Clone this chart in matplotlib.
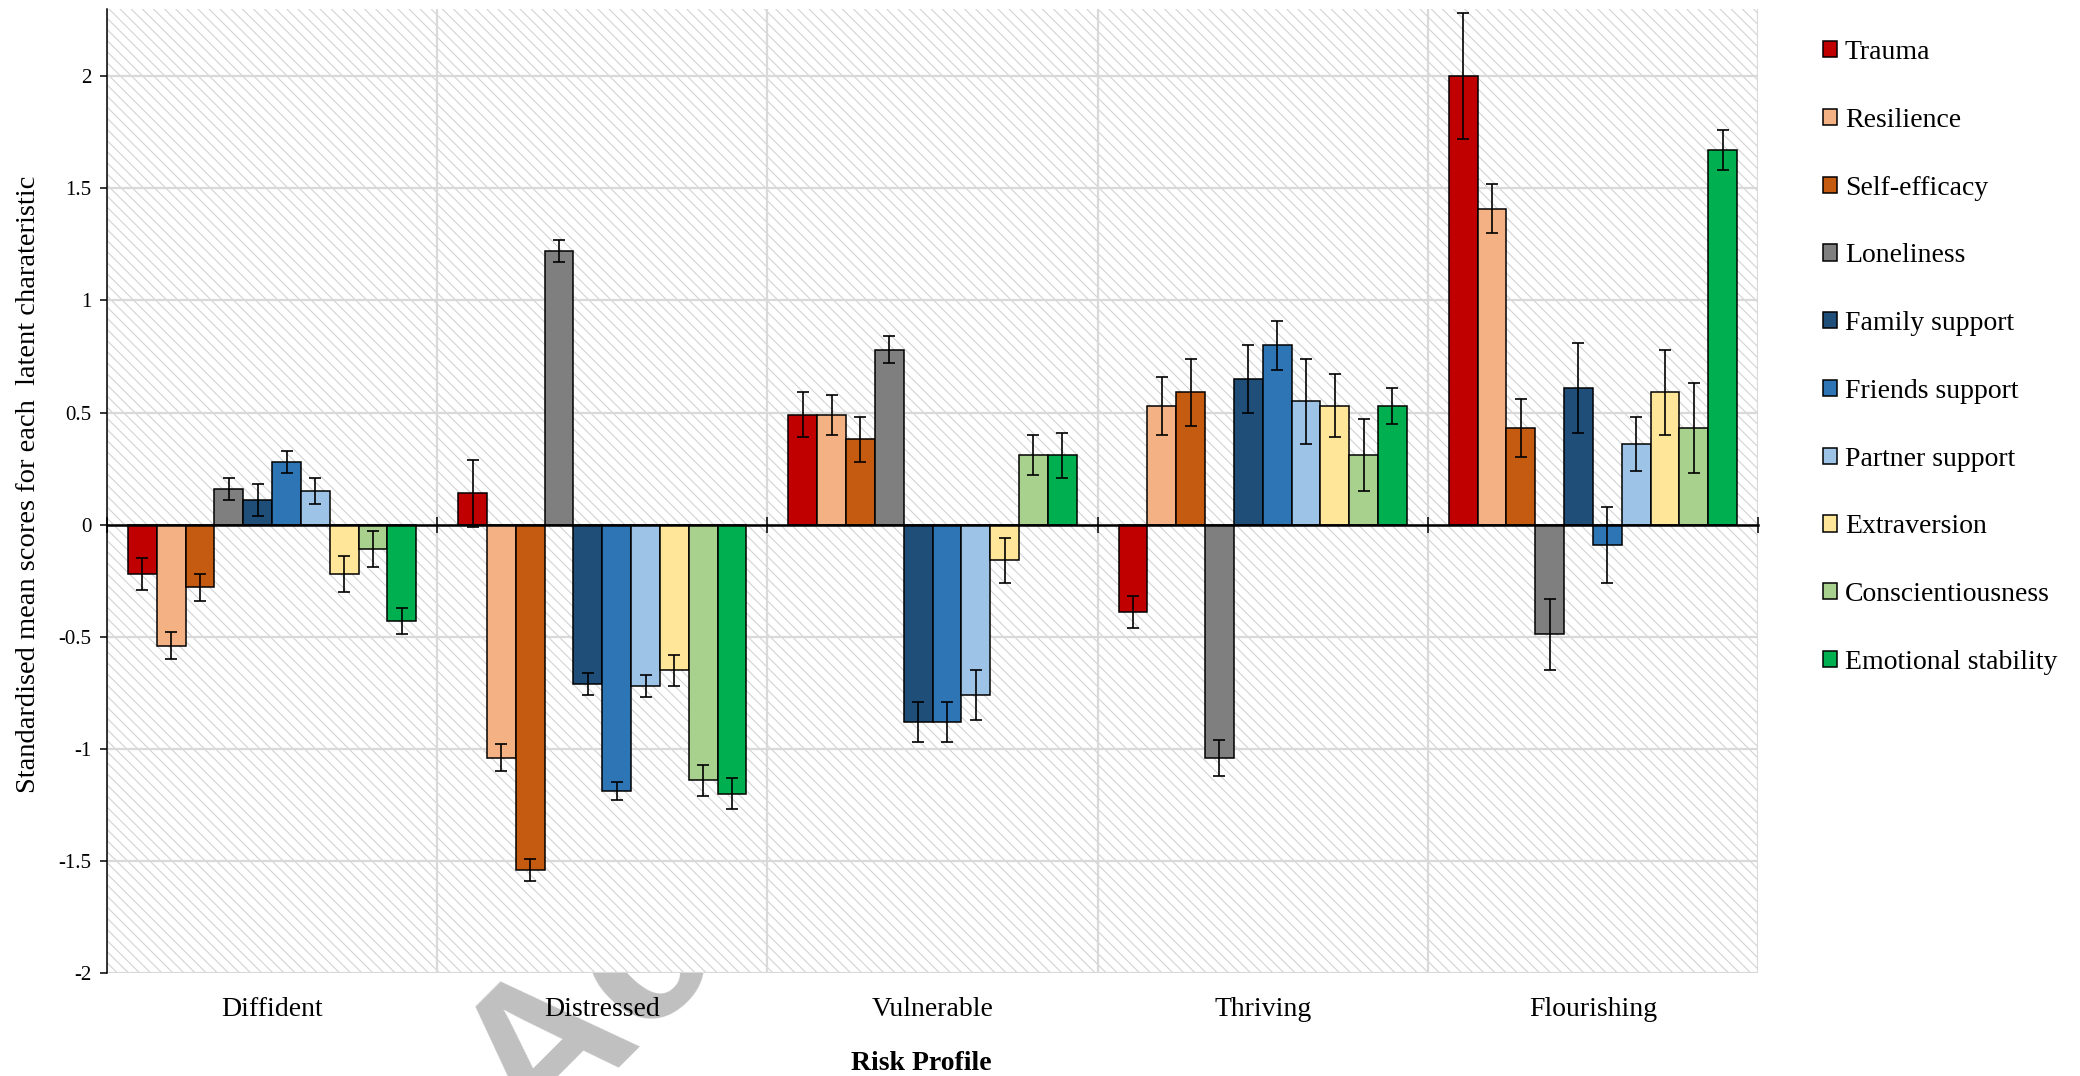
import numpy as np
import matplotlib
matplotlib.use("Agg")
import matplotlib.pyplot as plt
from matplotlib.patches import Rectangle

plt.rcParams['font.family'] = ['Liberation Serif', 'DejaVu Serif']
plt.rcParams['axes.unicode_minus'] = False
plt.rcParams['hatch.color'] = '#d3d3d3'
plt.rcParams['hatch.linewidth'] = 0.8

# ---------------- data ----------------
profiles = ['Diffident', 'Distressed', 'Vulnerable', 'Thriving', 'Flourishing']
characteristics = ['Trauma', 'Resilience', 'Self-efficacy', 'Loneliness', 'Family support',
                   'Friends support', 'Partner support', 'Extraversion', 'Conscientiousness',
                   'Emotional stability']

trauma = [-0.22, 0.14, 0.49, -0.39, 2.00]
resilience = [-0.54, -1.04, 0.49, 0.53, 1.41]
self_efficacy = [-0.28, -1.54, 0.38, 0.59, 0.43]
loneliness = [0.16, 1.22, 0.78, -1.04, -0.49]
family_support = [0.11, -0.71, -0.88, 0.65, 0.61]
friends_support = [0.28, -1.19, -0.88, 0.80, -0.09]
partner_support = [0.15, -0.72, -0.76, 0.55, 0.36]
extraversion = [-0.22, -0.65, -0.16, 0.53, 0.59]
conscientiousness = [-0.11, -1.14, 0.31, 0.31, 0.43]
emotional_stability = [-0.43, -1.20, 0.31, 0.53, 1.67]

trauma_err = [0.07, 0.15, 0.10, 0.07, 0.28]
resilience_err = [0.06, 0.06, 0.09, 0.13, 0.11]
self_efficacy_err = [0.06, 0.05, 0.10, 0.15, 0.13]
loneliness_err = [0.05, 0.05, 0.06, 0.08, 0.16]
family_support_err = [0.07, 0.05, 0.09, 0.15, 0.20]
friends_support_err = [0.05, 0.04, 0.09, 0.11, 0.17]
partner_support_err = [0.06, 0.05, 0.11, 0.19, 0.12]
extraversion_err = [0.08, 0.07, 0.10, 0.14, 0.19]
conscientiousness_err = [0.08, 0.07, 0.09, 0.16, 0.20]
emotional_stability_err = [0.06, 0.07, 0.10, 0.08, 0.09]

colors = ['#C00000', '#F4B183', '#C55A11', '#7F7F7F', '#1F4E79',
          '#2E75B6', '#9DC3E6', '#FFE699', '#A9D18E', '#00B050']

y_ticks = [-2, -1.5, -1, -0.5, 0, 0.5, 1, 1.5, 2]
y_tick_labels = ['-2', '-1.5', '-1', '-0.5', '0', '0.5', '1', '1.5', '2']

series = [trauma, resilience, self_efficacy, loneliness, family_support,
          friends_support, partner_support, extraversion, conscientiousness,
          emotional_stability]
errors = [trauma_err, resilience_err, self_efficacy_err, loneliness_err, family_support_err,
          friends_support_err, partner_support_err, extraversion_err, conscientiousness_err,
          emotional_stability_err]

# ---------------- figure ----------------
W, H = 2080, 1076
fig = plt.figure(figsize=(W / 100, H / 100), dpi=100)
fig.patch.set_facecolor('white')

ax_l, ax_r, ax_t, ax_b = 107, 1758, 9, 973
ax = fig.add_axes([ax_l / W, 1 - ax_b / H, (ax_r - ax_l) / W, (ax_b - ax_t) / H])

# hatched background
bg = Rectangle((0, 0), 1, 1, transform=ax.transAxes, facecolor='white',
               edgecolor='#d3d3d3', linewidth=0, hatch='\\\\\\', zorder=0.1)
ax.add_patch(bg)

x = np.arange(len(profiles))
n = len(characteristics)
w = 0.0873
for j, (vals, errs, col, lab) in enumerate(zip(series, errors, colors, characteristics)):
    ax.bar(x + (j - (n - 1) / 2) * w, vals, width=w, color=col, edgecolor='black',
           linewidth=1.1, label=lab, zorder=3,
           yerr=errs, capsize=4.3,
           error_kw=dict(ecolor='black', elinewidth=1.2, capthick=1.2, zorder=4))

ax.set_xlim(-0.5, len(profiles) - 0.5)
ax.set_ylim(-2, 2.3)

# x: boundaries as major (grid), centers as minor (labels)
ax.set_xticks(np.arange(len(profiles) + 1) - 0.5)
ax.set_xticklabels([])
ax.set_xticks(x, minor=True)
ax.set_xticklabels(profiles, minor=True, fontsize=20)
ax.tick_params(axis='x', which='both', length=0)
ax.tick_params(axis='x', which='minor', pad=17)

ax.set_yticks(y_ticks)
ax.set_yticklabels(y_tick_labels, fontsize=15)
ax.tick_params(axis='y', direction='out', length=5, width=1.1, pad=6)

ax.grid(True, which='major', color='#d9d9d9', linewidth=1.6, zorder=0.5)
ax.set_axisbelow(True)

for s in ['top', 'right', 'bottom']:
    ax.spines[s].set_visible(False)
ax.spines['left'].set_linewidth(1.1)
ax.spines['left'].set_zorder(5)

# zero axis with crossing ticks at category boundaries
sec = ax.secondary_xaxis(0, transform=ax.transData)
sec.set_xticks(np.arange(len(profiles) + 1) - 0.5)
sec.set_xticklabels([])
sec.tick_params(axis='x', direction='inout', length=11, width=1.1)
sec.spines['bottom'].set_linewidth(1.8)
sec.set_zorder(6)

ax.set_ylabel('Standardised mean scores for each  latent charateristic', fontsize=20.5)
ax.yaxis.set_label_coords(-0.040, 0.507)
ax.set_xlabel('Risk Profile', fontsize=20, fontweight='bold')
ax.xaxis.set_label_coords(0.493, -0.081)

leg = ax.legend(loc='center left', bbox_to_anchor=(1823 / W, 1 - 357.5 / H),
                bbox_transform=fig.transFigure, frameon=False, fontsize=20,
                handlelength=0.52, handleheight=0.52, handletextpad=0.27,
                labelspacing=1.54, borderpad=0, borderaxespad=0)
for h in leg.legend_handles:
    h.set_linewidth(1.1)

# watermark behind the chart
fig.text(536 / W, 1 - 1146 / H, 'Accepted', fontsize=151, fontweight='bold',
         family='Liberation Sans', color='#c0c0c0', rotation=45, rotation_mode='anchor',
         ha='left', va='baseline', zorder=-1)

fig.savefig('out.png', dpi=100, facecolor='white')
